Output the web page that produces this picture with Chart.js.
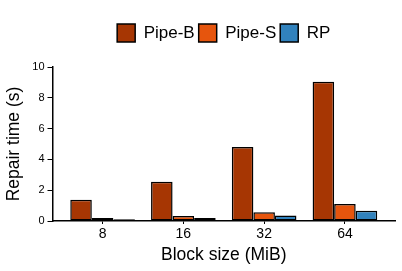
<!DOCTYPE html>
<html>
<head>
<meta charset="utf-8">
<script src="https://cdn.jsdelivr.net/npm/chart.js@4"></script>
<style>
  html, body { margin: 0; padding: 0; background: #fff; }
  #wrap { width: 402px; height: 271px; }
</style>
</head>
<body>
<div id="wrap"><canvas id="repairChart" width="402" height="271"></canvas></div>
<script>
const blockSizes = ['8', '16', '32', '64'];
const pipeB = [1.38, 2.55, 4.8, 9.05];
const pipeS = [0.2, 0.33, 0.57, 1.1];
const rp = [0.12, 0.2, 0.36, 0.66];
const yTicks = [0, 2, 4, 6, 8, 10];

const font = '"Liberation Sans", Arial, Helvetica, sans-serif';

function toPoints(values) {
    return values.map((v, i) => ({ x: i, y: v }));
}

// extra room under the legend
const legendGap = {
    id: 'legendGap',
    beforeInit(chart) {
        const fit = chart.legend.fit;
        chart.legend.fit = function () {
            fit.bind(chart.legend)();
            this.height += 15;
        };
    }
};

const ctx = document.getElementById('repairChart').getContext('2d');
new Chart(ctx, {
    type: 'bar',
    data: {
        datasets: [
            { label: 'Pipe-B', data: toPoints(pipeB), backgroundColor: '#a63603' },
            { label: 'Pipe-S', data: toPoints(pipeS), backgroundColor: '#e6550d' },
            { label: 'RP', data: toPoints(rp), backgroundColor: '#3182bd' }
        ]
    },
    plugins: [legendGap],
    options: {
        responsive: false,
        animation: false,
        devicePixelRatio: 1,
        layout: { padding: { top: 20, right: 7, left: 0, bottom: 0 } },
        datasets: {
            bar: {
                borderColor: '#000',
                borderWidth: 1.5,
                borderSkipped: false,
                categoryPercentage: 0.8,
                barPercentage: 1
            }
        },
        plugins: {
            tooltip: { enabled: false },
            legend: {
                position: 'top',
                fullSize: false,
                labels: {
                    boxWidth: 18,
                    boxHeight: 18,
                    padding: 4,
                    color: '#000',
                    font: { family: font, size: 17 }
                }
            }
        },
        scales: {
            x: {
                type: 'linear',
                offset: false,
                min: -0.62,
                max: 3.62,
                afterBuildTicks: (scale) => {
                    scale.ticks = blockSizes.map((c, i) => ({ value: i }));
                },
                afterFit: (scale) => { scale.height = 50; },
                grid: { offset: false, drawOnChartArea: false, tickLength: 3, color: '#000' },
                border: { color: '#000', width: 1.5 },
                ticks: {
                    padding: 2,
                    color: '#000',
                    font: { family: font, size: 14 },
                    callback: (v) => blockSizes[v]
                },
                title: {
                    display: true,
                    text: 'Block size (MiB)',
                    color: '#000',
                    padding: { top: 0, bottom: 5 },
                    font: { family: font, size: 17.5 }
                }
            },
            y: {
                min: 0,
                max: 10,
                afterBuildTicks: (scale) => {
                    scale.ticks = yTicks.map(v => ({ value: v }));
                },
                afterFit: (scale) => { scale.width = 52.5; },
                grid: { drawOnChartArea: false, tickLength: 5, color: '#000' },
                border: { color: '#000', width: 1.5 },
                ticks: {
                    padding: 3,
                    color: '#000',
                    font: { family: font, size: 11 }
                },
                title: {
                    display: true,
                    text: 'Repair time (s)',
                    color: '#000',
                    padding: { top: 4, bottom: 0 },
                    font: { family: font, size: 17.5 }
                }
            }
        }
    }
});
</script>
</body>
</html>
